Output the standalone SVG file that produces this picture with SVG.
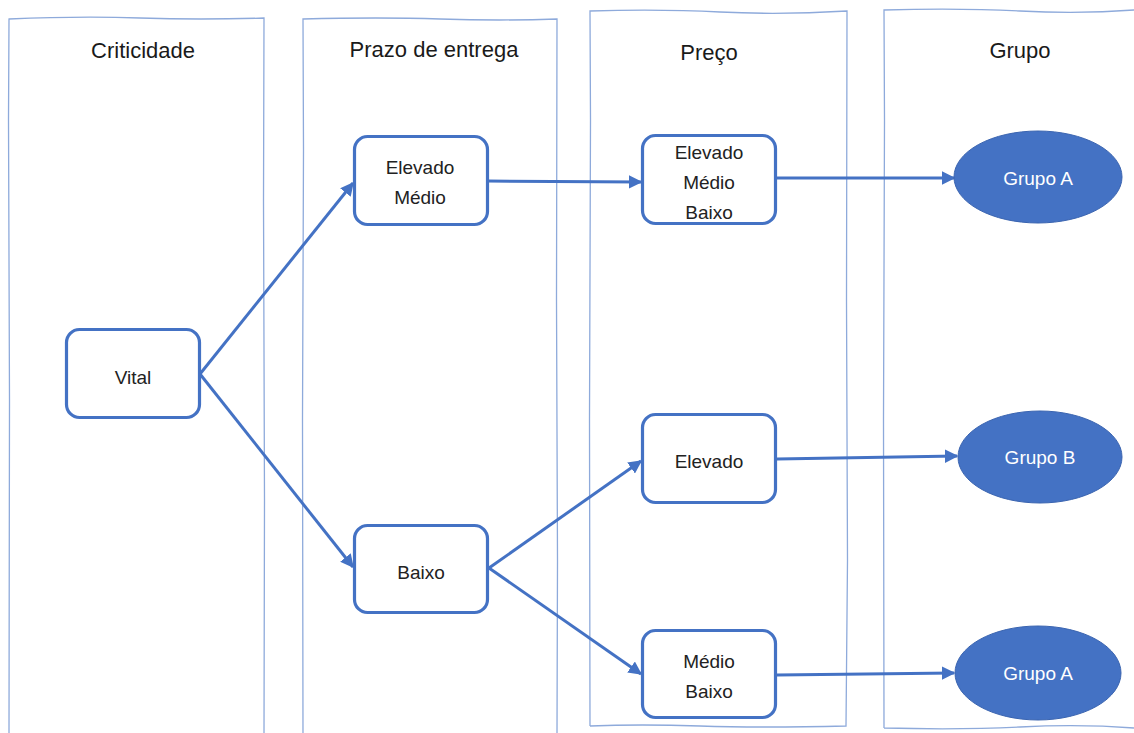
<svg xmlns="http://www.w3.org/2000/svg" width="1134" height="733" viewBox="0 0 1134 733">
  <style>
    .lane { fill: none; stroke: #8eaadb; stroke-width: 1.3; }
    .title { font-family: "Liberation Sans Narrow", "Liberation Sans", sans-serif; font-size: 22px; fill: #1a1a1a; text-anchor: middle; }
    .box { fill: #fff; stroke: #4472c4; stroke-width: 3.2; }
    .lbl { font-family: "Liberation Sans Narrow", "Liberation Sans", sans-serif; font-size: 19px; fill: #222; text-anchor: middle; }
    .grp { fill: #4472c4; stroke: #3a64b0; stroke-width: 1; }
    .glbl { font-family: "Liberation Sans Narrow", "Liberation Sans", sans-serif; font-size: 19px; fill: #fff; text-anchor: middle; }
    .conn { fill: none; stroke: #4472c4; stroke-width: 3; marker-end: url(#arr); }
  </style>
  <defs>
    <marker id="arr" viewBox="0 0 10 10" refX="9" refY="5" markerWidth="4.5" markerHeight="4.5" orient="auto" markerUnits="strokeWidth">
      <path d="M0,0 L10,5 L0,10 z" fill="#4472c4"/>
    </marker>
  </defs>

  <rect width="1134" height="733" fill="#fff"/>

  <!-- sketched column frames -->
  <g id="lanes">
    <path class="lane" d="M9,735 L9.5,400 L8.5,120 L9,19 Q80,16 140,18 T264,18 L263.5,200 L264.5,500 L264,735"/>
    <path class="lane" d="M303,735 L302.5,420 L303.5,150 L303,19 Q380,17 440,19 T557,19 L556.5,300 L557.5,560 L557,735"/>
    <path class="lane" d="M590,726 L589.5,420 L590.5,120 L590,11 Q660,9 720,12 T847,11 L846.5,300 L847.5,560 L846,726 Q760,728 700,726 T590,726"/>
    <path class="lane" d="M884,728 L883.5,420 L884.5,120 L884,10 Q960,8 1020,11 T1134,10 M884,728 Q960,730 1020,727 T1134,728"/>
  </g>

  <g id="titles">
    <text class="title" x="143" y="58">Criticidade</text>
    <text class="title" x="434" y="57">Prazo de entrega</text>
    <text class="title" x="709" y="60">Preço</text>
    <text class="title" x="1020" y="58">Grupo</text>
  </g>

  <g id="connectors">
    <path class="conn" d="M200,374 L353,183"/>
    <path class="conn" d="M200,374 L353,567"/>
    <path class="conn" d="M488,181 L641,182"/>
    <path class="conn" d="M489,568 L641,461"/>
    <path class="conn" d="M489,568 L641,674"/>
    <path class="conn" d="M777,178 L954,178"/>
    <path class="conn" d="M777,459 L957,456"/>
    <path class="conn" d="M777,675 L954,673"/>
  </g>

  <g id="vital">
    <rect class="box" x="66.5" y="329.5" width="133" height="88" rx="13"/>
    <text class="lbl" x="133" y="384">Vital</text>
  </g>

  <g id="prazo-elevado-medio">
    <rect class="box" x="354.5" y="136.5" width="133" height="88" rx="13"/>
    <text class="lbl" x="420" y="174">Elevado</text>
    <text class="lbl" x="420" y="204">Médio</text>
  </g>

  <g id="prazo-baixo">
    <rect class="box" x="354.5" y="525.5" width="133" height="87" rx="13"/>
    <text class="lbl" x="421" y="579">Baixo</text>
  </g>

  <g id="preco-todos">
    <rect class="box" x="642.5" y="135.5" width="133" height="88" rx="13"/>
    <text class="lbl" x="709" y="159">Elevado</text>
    <text class="lbl" x="709" y="189">Médio</text>
    <text class="lbl" x="709" y="219">Baixo</text>
  </g>

  <g id="preco-elevado">
    <rect class="box" x="642.5" y="414.5" width="133" height="88" rx="13"/>
    <text class="lbl" x="709" y="468">Elevado</text>
  </g>

  <g id="preco-medio-baixo">
    <rect class="box" x="642.5" y="630.5" width="133" height="87" rx="13"/>
    <text class="lbl" x="709" y="668">Médio</text>
    <text class="lbl" x="709" y="698">Baixo</text>
  </g>

  <g id="grupo-a-1">
    <ellipse class="grp" cx="1038" cy="177" rx="84" ry="46"/>
    <text class="glbl" x="1038" y="185">Grupo A</text>
  </g>

  <g id="grupo-b">
    <ellipse class="grp" cx="1040" cy="457" rx="82" ry="46"/>
    <text class="glbl" x="1040" y="464">Grupo B</text>
  </g>

  <g id="grupo-a-2">
    <ellipse class="grp" cx="1038" cy="673" rx="83" ry="47"/>
    <text class="glbl" x="1038" y="680">Grupo A</text>
  </g>
</svg>
